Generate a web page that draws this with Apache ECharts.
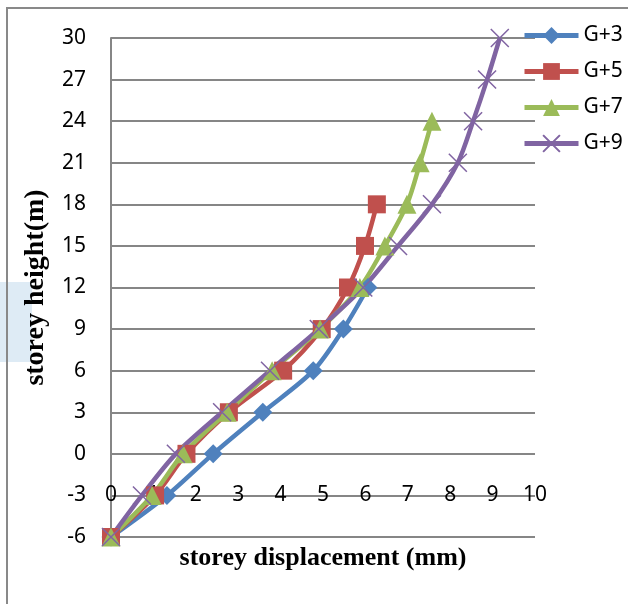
<!DOCTYPE html>
<html>
<head>
<meta charset="utf-8">
<script src="https://cdn.jsdelivr.net/npm/echarts@6/dist/echarts.min.js"></script>
<style>
  html, body { margin: 0; padding: 0; background: #fff; }
  #myChart { width: 628px; height: 604px; }
</style>
</head>
<body>
<div id="myChart"></div>
<script>
// storey heights (m), shared by all series
let heights = [-6, -3, 0, 3, 6, 9, 12, 15, 18, 21, 24, 27, 30]

// storey displacement (mm)
let g3 = [0, 1.32, 2.41, 3.58, 4.77, 5.48, 6.06]
let g5 = [0, 1.04, 1.78, 2.78, 4.06, 4.97, 5.59, 5.99, 6.27]
let g7 = [0, 0.97, 1.70, 2.74, 3.80, 4.93, 5.87, 6.46, 6.98, 7.29, 7.57]
let g9 = [0, 0.73, 1.53, 2.62, 3.75, 4.90, 5.95, 6.77, 7.57, 8.18, 8.54, 8.87, 9.17]

let names = ['G+3', 'G+5', 'G+7', 'G+9']
let colors = ['#4f81bd', '#c0504d', '#9bbb59', '#8064a2']

let xTicks = { min: 0, max: 10, interval: 1 }
let yTicks = { min: -6, max: 30, interval: 3 }

function pairs(disp) {
    return disp.map(function (d, i) {
        return [d, heights[i]]
    })
}

let labelFont = { color: '#000', fontFamily: 'Noto Sans', fontSize: 21 }
let titleFont = { color: '#000', fontFamily: 'Liberation Serif', fontWeight: 'bold', fontSize: 26 }

let series = [
    {
        name: names[0],
        type: 'line',
        smooth: 0.3,
        data: pairs(g3),
        symbol: 'diamond',
        symbolSize: 19,
        lineStyle: { width: 4.5, color: colors[0] },
        itemStyle: { color: colors[0] }
    },
    {
        name: names[1],
        type: 'line',
        smooth: 0.3,
        data: pairs(g5),
        symbol: 'rect',
        symbolSize: 18,
        lineStyle: { width: 4.5, color: colors[1] },
        itemStyle: { color: colors[1] }
    },
    {
        name: names[2],
        type: 'line',
        smooth: 0.3,
        data: pairs(g7),
        symbol: 'triangle',
        symbolSize: 19,
        lineStyle: { width: 4.5, color: colors[2] },
        itemStyle: { color: colors[2] }
    },
    {
        name: names[3],
        type: 'line',
        smooth: 0.3,
        data: pairs(g9),
        symbol: 'path://M0,0L10,10M10,0L0,10',
        symbolSize: 18,
        lineStyle: { width: 4.5, color: colors[3] },
        itemStyle: { color: 'rgba(0,0,0,0)', borderColor: colors[3], borderWidth: 1.5 }
    }
]

let option = {
    animation: false,
    backgroundColor: '#fff',
    graphic: [
        {
            type: 'rect',
            shape: { x: 0, y: 282, width: 32, height: 80 },
            style: { fill: '#deebf5' },
            z: -10
        },
        {
            type: 'rect',
            shape: { x: 7, y: 8, width: 700, height: 700 },
            style: { fill: 'rgba(0,0,0,0)', stroke: '#898989', lineWidth: 2 },
            z: -5
        }
    ],
    legend: {
        data: names,
        orient: 'vertical',
        left: 522,
        top: 25,
        itemWidth: 54,
        itemHeight: 21,
        itemGap: 15,
        padding: 0,
        lineStyle: { width: 5 },
        textStyle: Object.assign({ lineHeight: 21 }, labelFont)
    },
    grid: { left: 111, top: 38, right: 93, bottom: 67, containLabel: false },
    color: colors,
    xAxis: {
        type: 'value',
        min: xTicks.min,
        max: xTicks.max,
        interval: xTicks.interval,
        position: 'bottom',
        offset: -42,
        name: 'storey displacement (mm)',
        nameLocation: 'middle',
        nameGap: 50,
        nameTextStyle: titleFont,
        axisLine: { show: false },
        axisTick: { show: false },
        splitLine: { show: false },
        axisLabel: Object.assign({ margin: 0, verticalAlign: 'middle' }, labelFont)
    },
    yAxis: {
        type: 'value',
        min: yTicks.min,
        max: yTicks.max,
        interval: yTicks.interval,
        name: 'storey height(m)',
        nameLocation: 'middle',
        nameRotate: 90,
        nameGap: 61,
        nameTextStyle: Object.assign({}, titleFont, { fontSize: 28 }),
        axisLine: { show: true, lineStyle: { color: '#868686', width: 2 } },
        axisTick: { show: false },
        splitLine: { show: true, lineStyle: { color: '#868686', width: 2 } },
        axisLabel: Object.assign({ margin: 25 }, labelFont)
    },
    series: series
}

let myChart = echarts.init(document.getElementById('myChart'))
myChart.setOption(option, true)
</script>
</body>
</html>
